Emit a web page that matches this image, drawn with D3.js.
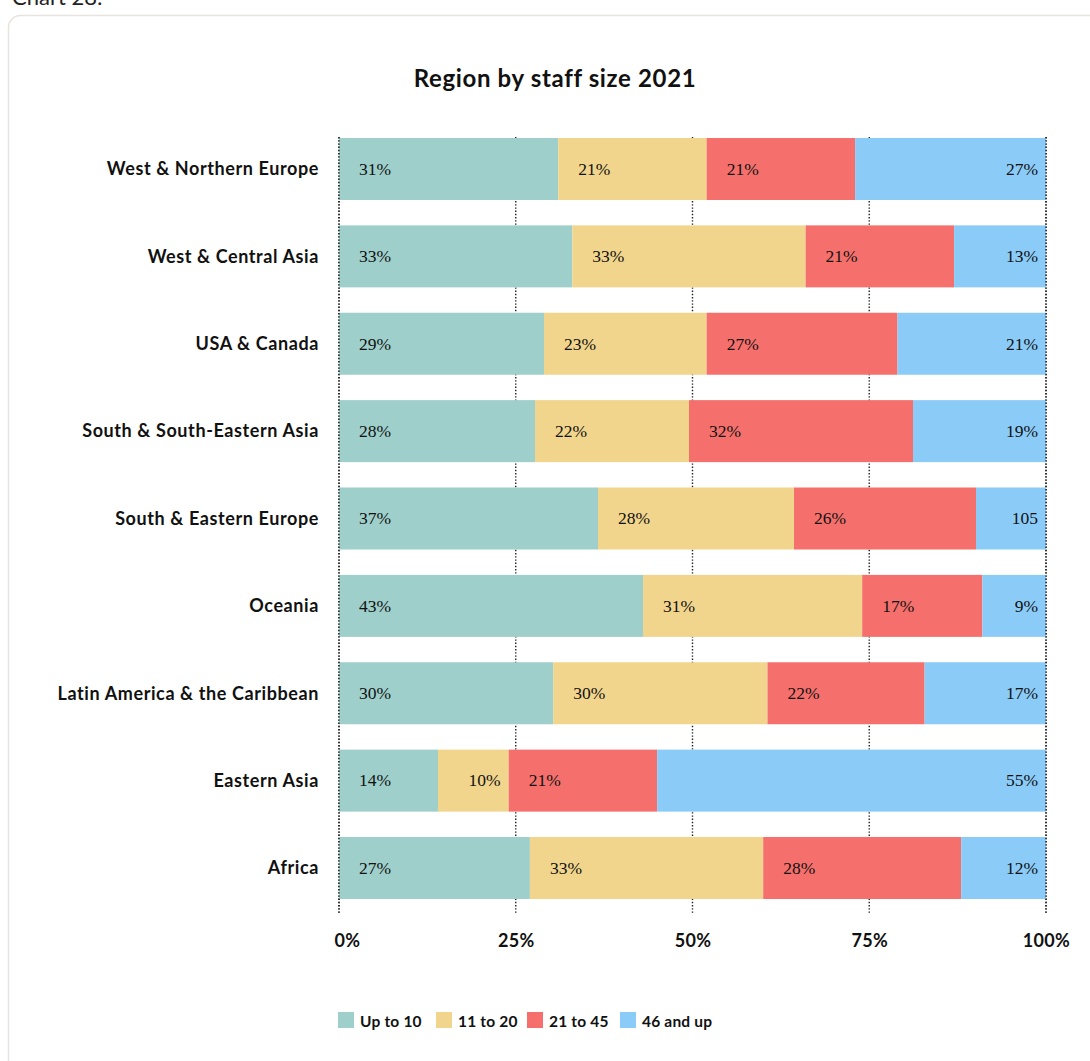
<!DOCTYPE html>
<html>
<head>
<meta charset="utf-8">
<script src="https://cdn.jsdelivr.net/npm/d3@7"></script>
<style>
  html, body { margin: 0; padding: 0; background: #fff; }
  svg { display: block; }
</style>
</head>
<body>
<svg id="chart" width="1090" height="1061"></svg>
<script>
// Share of organisations by staff size, per region (percent)
const regions = [
  "West & Northern Europe",
  "West & Central Asia",
  "USA & Canada",
  "South & South-Eastern Asia",
  "South & Eastern Europe",
  "Oceania",
  "Latin America & the Caribbean",
  "Eastern Asia",
  "Africa"
];
const seriesNames = ["Up to 10", "11 to 20", "21 to 45", "46 and up"];
const upTo10      = [31, 33, 29, 28, 37, 43, 30, 14, 27];
const from11to20  = [21, 33, 23, 22, 28, 31, 30, 10, 33];
const from21to45  = [21, 21, 27, 32, 26, 17, 22, 21, 28];
const from46up    = [27, 13, 21, 19, 10,  9, 17, 55, 12];
const tickValues  = [0, 0.25, 0.5, 0.75, 1];
// printed label that differs from the plain "n%" form
const labelOverrides = { "South & Eastern Europe|46 and up": "105" };

const colors = ["#9ecfca", "#f2d58c", "#f5706c", "#8bcbf8"];

const rows = regions.map((r, i) => ({
  region: r,
  "Up to 10": upTo10[i],
  "11 to 20": from11to20[i],
  "21 to 45": from21to45[i],
  "46 and up": from46up[i]
}));

const svg = d3.select("#chart");
const sansBold = "Lato, 'Open Sans', sans-serif";

// card frame
svg.append("rect")
  .attr("x", 8.5).attr("y", 15.5)
  .attr("width", 1200).attr("height", 1200)
  .attr("rx", 12)
  .attr("fill", "#fff")
  .attr("stroke", "#e7e3df")
  .attr("stroke-width", 1.5);

// chart number heading above the card
svg.append("text")
  .attr("x", 12).attr("y", 5)
  .attr("font-family", sansBold).attr("font-size", 22)
  .attr("fill", "#222")
  .text("Chart 28:");

// title
svg.append("text")
  .attr("x", 555).attr("y", 87)
  .attr("text-anchor", "middle")
  .attr("font-family", sansBold).attr("font-weight", 700)
  .attr("font-size", 24).attr("letter-spacing", 0.65).attr("fill", "#111")
  .text("Region by staff size 2021");

const x = d3.scaleLinear().domain([0, 1]).range([339, 1046]);
const y = d3.scaleBand().domain(regions).range([138, 899]).paddingInner(0.2904);

const stacked = d3.stack().keys(seriesNames).offset(d3.stackOffsetExpand)(rows);

// dotted vertical grid (behind bars)
const grid = svg.append("g");
grid.selectAll("line").data(tickValues).join("line")
  .attr("x1", d => x(d)).attr("x2", d => x(d))
  .attr("y1", 137).attr("y2", 914)
  .attr("stroke", "#222")
  .attr("stroke-width", 1.4)
  .attr("stroke-dasharray", "1.4,1.8");

// bars
const layers = svg.append("g").selectAll("g").data(stacked).join("g")
  .attr("fill", (d, i) => colors[i]);

layers.selectAll("rect").data(d => d).join("rect")
  .attr("x", d => x(d[0]))
  .attr("y", d => y(d.data.region))
  .attr("width", d => x(d[1]) - x(d[0]))
  .attr("height", y.bandwidth());

// dotted edge lines at 0% and 100% are visible over the bars
svg.append("g").selectAll("line").data([0, 1]).join("line")
  .attr("x1", d => x(d)).attr("x2", d => x(d))
  .attr("y1", 137).attr("y2", 914)
  .attr("stroke", "#222")
  .attr("stroke-width", 1.4)
  .attr("stroke-dasharray", "1.4,1.8");

// value labels
const labelGroup = svg.append("g")
  .attr("font-family", "'Liberation Serif', 'DejaVu Serif', serif")
  .attr("font-size", 17.5)
  .attr("fill", "#111");

stacked.forEach((layer, si) => {
  layer.forEach(d => {
    const x0 = x(d[0]), x1 = x(d[1]);
    const key = d.data.region + "|" + layer.key;
    const txt = labelOverrides[key] || (d.data[layer.key] + "%");
    const last = si === stacked.length - 1;
    const narrow = (x1 - x0) < 80;
    const endAnchor = last || narrow;
    labelGroup.append("text")
      .attr("x", endAnchor ? x1 - 8 : x0 + 20)
      .attr("y", y(d.data.region) + y.bandwidth() / 2)
      .attr("dy", "0.33em")
      .attr("text-anchor", endAnchor ? "end" : "start")
      .text(txt);
  });
});

// category labels
svg.append("g").selectAll("text").data(regions).join("text")
  .attr("x", 319)
  .attr("y", d => y(d) + y.bandwidth() / 2)
  .attr("dy", "0.35em")
  .attr("text-anchor", "end")
  .attr("font-family", sansBold).attr("font-weight", 700)
  .attr("font-size", 18).attr("letter-spacing", 0.6).attr("fill", "#111")
  .text(d => d);

// x axis labels
const xAxis = d3.axisBottom(x)
  .tickValues(tickValues)
  .tickFormat(d3.format(".0%"))
  .tickSize(0)
  .tickPadding(0);
const axisG = svg.append("g").attr("transform", "translate(0,934)").call(xAxis);
axisG.select(".domain").remove();
axisG.selectAll("text")
  .attr("font-family", sansBold).attr("font-weight", 700)
  .attr("font-size", 18).attr("letter-spacing", 0.3).attr("fill", "#111")
  .attr("dx", d => d === 0 ? 8 : 0);

// legend
const legendX = [338, 436, 527, 620];
const legend = svg.append("g").selectAll("g").data(seriesNames).join("g")
  .attr("transform", (d, i) => `translate(${legendX[i]},1012)`);
legend.append("rect")
  .attr("width", 16).attr("height", 16)
  .attr("fill", (d, i) => colors[i]);
legend.append("text")
  .attr("x", 22).attr("y", 10).attr("dy", "0.35em")
  .attr("font-family", sansBold).attr("font-weight", 700)
  .attr("font-size", 15.5).attr("letter-spacing", 0.2).attr("fill", "#111")
  .text(d => d);
</script>
</body>
</html>
